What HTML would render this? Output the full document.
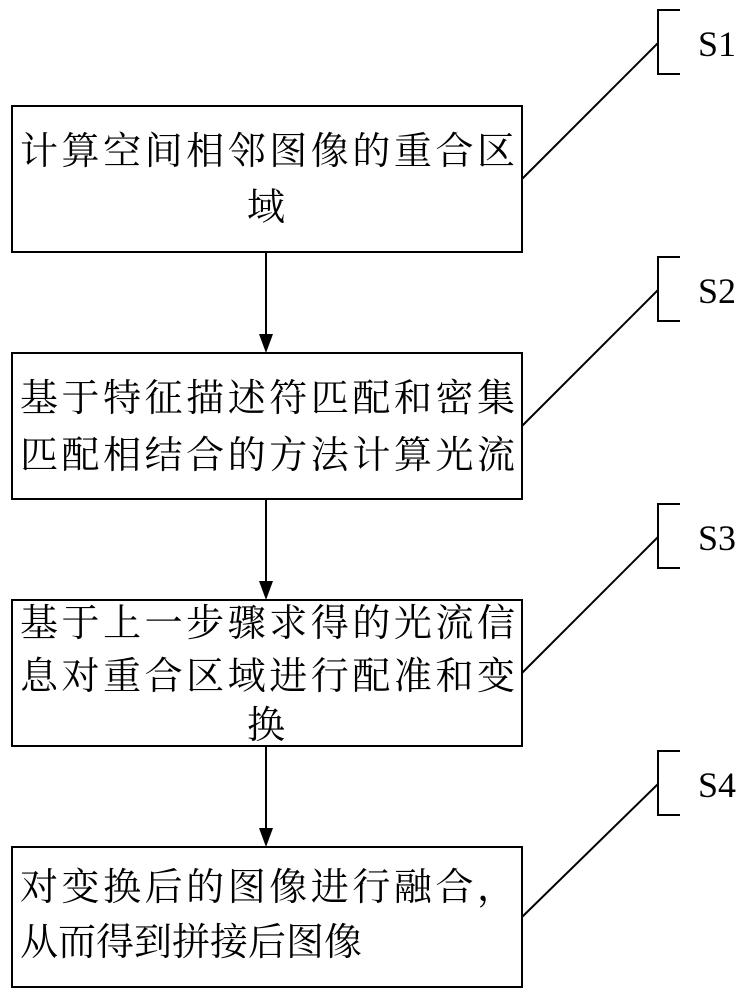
<!DOCTYPE html>
<html><head><meta charset="utf-8"><style>
html,body{margin:0;padding:0;background:#fff;width:753px;height:1000px;overflow:hidden}
text{font-family:"Liberation Serif","Noto Serif CJK SC",serif;fill:#000}
</style></head><body>
<svg width="753" height="1000" viewBox="0 0 753 1000" xmlns="http://www.w3.org/2000/svg">
<g fill="none" stroke="#000" stroke-width="2">
<rect x="12" y="106" width="510" height="146"/>
<rect x="12" y="353" width="510" height="146"/>
<rect x="12" y="600" width="510" height="146"/>
<rect x="12" y="847" width="510" height="140"/>
<line x1="266" y1="252" x2="266" y2="335"/>
<line x1="266" y1="499" x2="266" y2="582"/>
<line x1="266" y1="746" x2="266" y2="829"/>
<path d="M680,10 H658 V74 H680"/><line x1="522" y1="179" x2="658" y2="43"/>
<path d="M680,257 H658 V321 H680"/><line x1="522" y1="426" x2="658" y2="290"/>
<path d="M680,504 H658 V568 H680"/><line x1="522" y1="673" x2="658" y2="537"/>
<path d="M680,751 H658 V815 H680"/><line x1="522" y1="917" x2="658" y2="784"/>
</g>
<g fill="#000">
<polygon points="259,334 273,334 266,353"/>
<polygon points="259,581 273,581 266,600"/>
<polygon points="259,828 273,828 266,847"/>
</g>
<g font-size="36">
<text x="698" y="56">S1</text>
<text x="698" y="303">S2</text>
<text x="698" y="550">S3</text>
<text x="698" y="797">S4</text>
</g>
<g font-size="38">
<text x="20" y="164" textLength="495">计算空间相邻图像的重合区</text>
<text x="266" y="220" text-anchor="middle">域</text>
<text x="20" y="411" textLength="495">基于特征描述符匹配和密集</text>
<text x="20" y="468" textLength="495">匹配相结合的方法计算光流</text>
<text x="20" y="636" textLength="495">基于上一步骤求得的光流信</text>
<text x="20" y="689" textLength="495">息对重合区域进行配准和变</text>
<text x="266" y="738" text-anchor="middle">换</text>
<text x="20" y="900" textLength="495">对变换后的图像进行融合，</text>
<text x="20" y="955">从而得到拼接后图像</text>
</g>
</svg>
</body></html>
